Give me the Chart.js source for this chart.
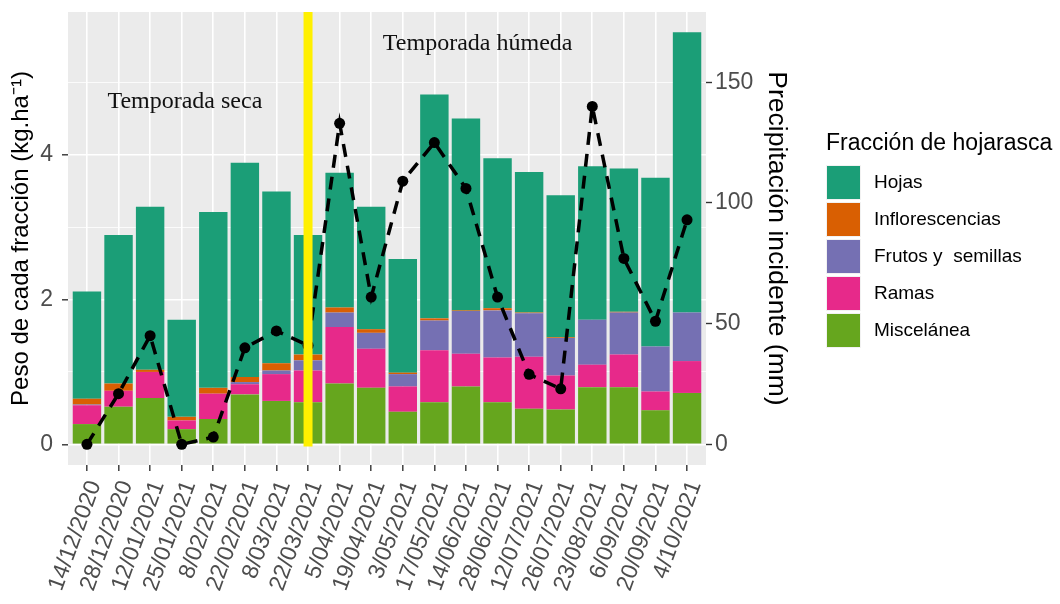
<!DOCTYPE html>
<html lang="es">
<head>
<meta charset="utf-8">
<title>Fracciones de hojarasca y precipitación</title>
<script src="https://cdn.jsdelivr.net/npm/chart.js@4.4.1/dist/chart.umd.min.js"></script>
<style>
    html, body { margin: 0; padding: 0; background: #fff; }
    #contenedor { width: 1060px; height: 604px; position: relative; }
</style>
</head>
<body>
<div id="contenedor"><canvas id="grafico"></canvas></div>
<script>
const fechas = ["14/12/2020", "28/12/2020", "12/01/2021", "25/01/2021", "8/02/2021", "22/02/2021",
    "8/03/2021", "22/03/2021", "5/04/2021", "19/04/2021", "3/05/2021", "17/05/2021", "14/06/2021",
    "28/06/2021", "12/07/2021", "26/07/2021", "23/08/2021", "6/09/2021", "20/09/2021", "4/10/2021"];

// kg.ha-1 por fracción (de abajo hacia arriba en la pila)
const miscelanea = [0.28, 0.52, 0.64, 0.21, 0.35, 0.69, 0.60, 0.58, 0.84, 0.78, 0.45, 0.58, 0.80, 0.58, 0.49, 0.48, 0.79, 0.79, 0.47, 0.71];
const ramas = [0.26, 0.22, 0.36, 0.12, 0.35, 0.14, 0.37, 0.44, 0.78, 0.54, 0.35, 0.72, 0.45, 0.62, 0.72, 0.47, 0.31, 0.45, 0.26, 0.44];
const frutos = [0.01, 0, 0, 0, 0, 0.03, 0.05, 0.14, 0.20, 0.22, 0.17, 0.41, 0.59, 0.65, 0.60, 0.52, 0.62, 0.58, 0.62, 0.67];
const inflorescencias = [0.08, 0.10, 0.03, 0.05, 0.08, 0.07, 0.10, 0.08, 0.07, 0.05, 0.02, 0.03, 0.01, 0.03, 0.01, 0.01, 0, 0.01, 0, 0];
const hojas = [1.48, 2.05, 2.25, 1.34, 2.43, 2.96, 2.37, 1.65, 1.86, 1.69, 1.57, 3.09, 2.65, 2.07, 1.94, 1.96, 2.12, 1.98, 2.33, 3.87];

// precipitación incidente (mm)
const precipitacion = [0, 21, 45, 0, 3, 40, 47, 41, 133, 61, 109, 125, 106, 61, 29, 23, 140, 77, 51, 93];

const ticksPeso = [0, 1, 2, 3, 4, 5];
const ticksLluvia = [0, 50, 100, 150];
const fechaCambio = "22/03/2021";

const pesoMin = -0.285;
const pesoMax = 5.97;
const factorLluvia = 30;

const fracciones = [
    { nombre: "Miscelánea", valores: miscelanea, color: "#66A61E" },
    { nombre: "Ramas", valores: ramas, color: "#E7298A" },
    { nombre: "Frutos y  semillas", valores: frutos, color: "#7570B3" },
    { nombre: "Inflorescencias", valores: inflorescencias, color: "#D95F02" },
    { nombre: "Hojas", valores: hojas, color: "#1B9E77" }
];

const temporadas = [
    { texto: "Temporada seca", x: 3.1, y: 4.65 },
    { texto: "Temporada húmeda", x: 12.37, y: 5.45 }
];

const fuente = "'Liberation Sans', Arial, sans-serif";
const ctx = document.getElementById("grafico");

const fondoPanel = {
    id: "fondoPanel",
    beforeDraw(chart) {
        const { ctx, chartArea: a } = chart;
        ctx.save();
        ctx.fillStyle = "#EBEBEB";
        ctx.fillRect(a.left, a.top, a.right - a.left, a.bottom - a.top);
        ctx.restore();
    }
};

const marcas = {
    id: "marcas",
    afterDatasetsDraw(chart) {
        const { ctx, chartArea: a, scales: { x, y } } = chart;
        const xc = x.getPixelForValue(fechas.indexOf(fechaCambio));
        ctx.save();
        ctx.strokeStyle = "#FFF000";
        ctx.lineWidth = 9;
        ctx.beginPath();
        ctx.moveTo(xc, y.getPixelForValue(-0.03));
        ctx.lineTo(xc, a.top);
        ctx.stroke();

        ctx.font = "24px 'Liberation Serif', 'Times New Roman', serif";
        ctx.fillStyle = "#111";
        ctx.textAlign = "center";
        ctx.textBaseline = "alphabetic";
        temporadas.forEach(t => ctx.fillText(t.texto, x.getPixelForValue(t.x), y.getPixelForValue(t.y)));
        ctx.restore();
    }
};

const leyenda = {
    id: "leyenda",
    afterDraw(chart) {
        const c = chart.ctx;
        c.save();
        c.fillStyle = "#000";
        c.font = "23px " + fuente;
        c.textBaseline = "alphabetic";
        c.fillText("Fracción de hojarasca", 826, 150);
        c.font = "19px " + fuente;
        c.textBaseline = "middle";
        fracciones.slice().reverse().forEach((f, i) => {
            const top = 165 + i * 37;
            c.fillStyle = f.color;
            c.fillRect(826, top, 35, 35);
            c.strokeStyle = "#F2F2F2";
            c.lineWidth = 1;
            c.strokeRect(826.5, top + 0.5, 34, 34);
            c.fillStyle = "#000";
            c.fillText(f.nombre, 874, top + 18);
        });
        c.restore();
    }
};

const datasets = [{
    type: "line",
    label: "Precipitación",
    data: precipitacion.map((v, i) => ({ x: i, y: v })),
    yAxisID: "y2",
    borderColor: "#000",
    borderWidth: 3.5,
    borderDash: [13, 9],
    pointRadius: 5.5,
    pointBackgroundColor: "#000",
    pointBorderWidth: 0,
    tension: 0,
    fill: false,
    order: 0
}];

fracciones.forEach(f => {
    datasets.push({
        type: "bar",
        label: f.nombre,
        data: f.valores.map((v, i) => ({ x: i, y: v })),
        backgroundColor: f.color,
        borderWidth: 0,
        barPercentage: 0.9,
        categoryPercentage: 1,
        stack: "hojarasca",
        yAxisID: "y",
        order: 1
    });
});

// sin relleno extra de las etiquetas: el área del gráfico queda fija
function sinRelleno(s) {
    s.paddingTop = 0;
    s.paddingBottom = 0;
    s.paddingLeft = 0;
    s.paddingRight = 0;
}

Chart.defaults.font.family = fuente;

new Chart(ctx, {
    type: "bar",
    data: { datasets: datasets },
    options: {
        responsive: true,
        maintainAspectRatio: false,
        animation: false,
        devicePixelRatio: 1,
        layout: { padding: { top: 12, right: 268, bottom: 0, left: 0 } },
        plugins: {
            legend: { display: false },
            tooltip: { enabled: false }
        },
        scales: {
            x: {
                type: "linear",
                min: -0.6,
                max: fechas.length - 0.4,
                offset: false,
                afterBuildTicks: s => { s.ticks = fechas.map((_, i) => ({ value: i })); },
                afterFit: s => { s.height = 139; sinRelleno(s); },
                grid: { offset: false, color: "#FFFFFF", lineWidth: 1.6, tickColor: "#333333", tickLength: 6, tickWidth: 1.4 },
                border: { display: false },
                ticks: {
                    autoSkip: false,
                    minRotation: 70,
                    maxRotation: 70,
                    padding: 6,
                    labelOffset: 8,
                    color: "#4D4D4D",
                    font: { size: 23 },
                    callback: v => fechas[v]
                }
            },
            y: {
                position: "left",
                stacked: true,
                min: pesoMin,
                max: pesoMax,
                afterBuildTicks: s => { s.ticks = ticksPeso.map(v => ({ value: v })); },
                afterFit: s => { s.width = 68; sinRelleno(s); },
                grid: {
                    color: "#FFFFFF",
                    lineWidth: c => (c.tick && c.tick.value % 2 === 0) ? 1.6 : 0.8,
                    tickColor: c => (c.tick && c.tick.value % 2 === 0) ? "#333333" : "rgba(0,0,0,0)",
                    tickLength: 6,
                    tickWidth: 1.4
                },
                border: { display: false },
                ticks: {
                    autoSkip: false,
                    padding: 9,
                    color: "#4D4D4D",
                    font: { size: 23 },
                    callback: v => v % 2 === 0 ? v : ""
                },
                title: {
                    display: true,
                    text: "Peso de cada fracción (kg.ha⁻¹)",
                    color: "#000",
                    font: { size: 24 },
                    padding: { top: 7, bottom: 0 }
                }
            },
            y2: {
                position: "right",
                min: pesoMin * factorLluvia,
                max: pesoMax * factorLluvia,
                afterBuildTicks: s => { s.ticks = ticksLluvia.map(v => ({ value: v })); },
                afterFit: s => { s.width = 86; sinRelleno(s); },
                grid: { drawOnChartArea: false, tickColor: "#333333", tickLength: 6, tickWidth: 1.4 },
                border: { display: false },
                ticks: { autoSkip: false, padding: 3, color: "#4D4D4D", font: { size: 23 } },
                title: {
                    display: true,
                    text: "Precipitación incidente (mm)",
                    color: "#000",
                    font: { size: 26.5 },
                    padding: { top: 0, bottom: 0 }
                }
            }
        }
    },
    plugins: [fondoPanel, marcas, leyenda]
});
</script>
</body>
</html>
